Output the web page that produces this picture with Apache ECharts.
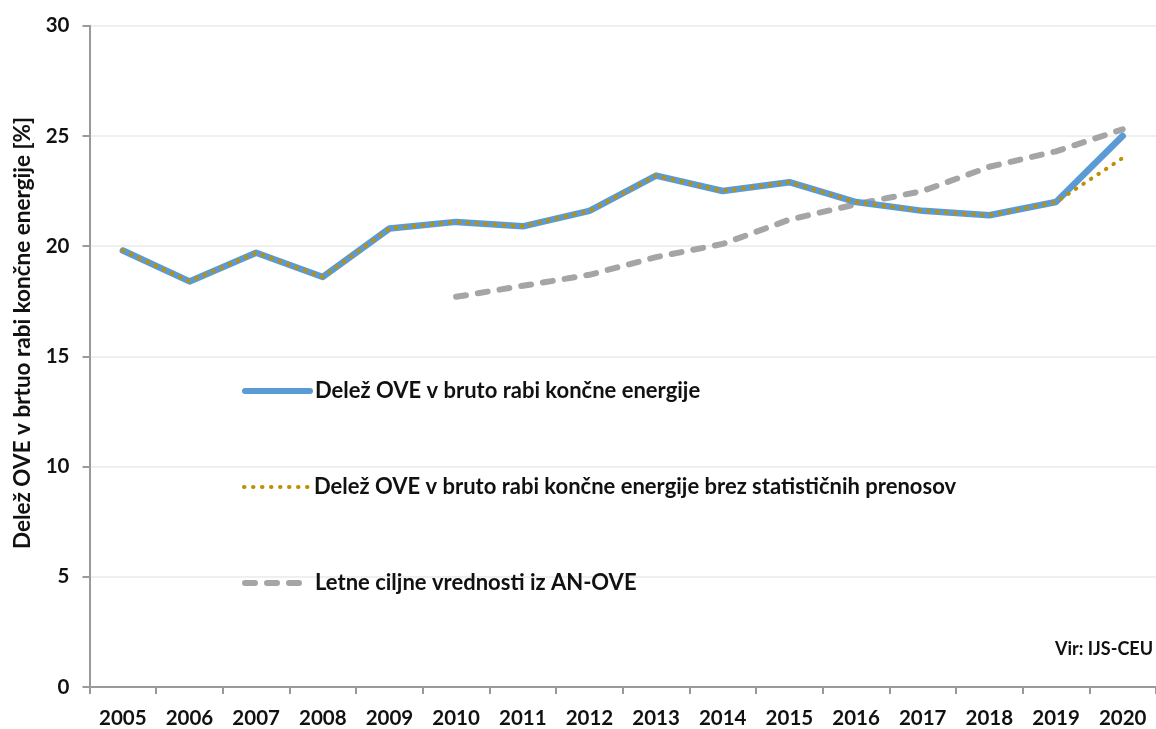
<!DOCTYPE html>
<html>
<head>
<meta charset="utf-8">
<script src="https://cdn.jsdelivr.net/npm/echarts@6/dist/echarts.min.js"></script>
<style>
  html, body { margin: 0; padding: 0; background: #fff; }
  #box { width: 1156px; height: 729px; }
</style>
</head>
<body>
<div id="box"></div>
<script>
// podatki
var years = ['2005','2006','2007','2008','2009','2010','2011','2012','2013','2014','2015','2016','2017','2018','2019','2020'];
var delez = [19.8, 18.4, 19.7, 18.6, 20.8, 21.1, 20.9, 21.6, 23.2, 22.5, 22.9, 22.0, 21.6, 21.4, 22.0, 25.0];
var delezBrez = [19.8, 18.4, 19.7, 18.6, 20.8, 21.1, 20.9, 21.6, 23.2, 22.5, 22.9, 22.0, 21.6, 21.4, 22.0, 24.0];
var cilji = [null, null, null, null, null, 17.7, 18.2, 18.7, 19.5, 20.1, 21.2, 21.9, 22.5, 23.6, 24.3, 25.3];
var yTicks = [0, 5, 10, 15, 20, 25, 30];

var names = [
    'Delež OVE v bruto rabi končne energije',
    'Delež OVE v bruto rabi končne energije brez statističnih prenosov',
    'Letne ciljne vrednosti iz AN-OVE'
];

var font = 'Lato, "Open Sans", sans-serif';
var chart = echarts.init(document.getElementById('box'));

// ena vrstica legende (simbol skrit, ostane samo črta)
function legendRow(name, top, lw) {
    return {
        data: [name],
        left: 242,
        top: top,
        padding: 0,
        itemWidth: 65,
        itemHeight: 20,
        itemGap: 0,
        selectedMode: false,
        itemStyle: { opacity: 0 },
        lineStyle: { width: lw },
        textStyle: { fontFamily: font, fontWeight: 'bold', fontSize: 22, color: '#111', lineHeight: 20 }
    };
}

var option = {
    animation: false,
    grid: { left: 89.5, right: -10.5, top: 25.7, bottom: 38.7, containLabel: false },
    legend: [
        legendRow(names[0], 380, 6),
        legendRow(names[1], 476, 4),
        legendRow(names[2], 572, 6)
    ],
    graphic: [
        {
            type: 'text',
            x: 23, y: 333,
            rotation: Math.PI / 2,
            style: {
                text: 'Delež OVE v brtuo rabi končne energije [%]',
                fontFamily: font, fontWeight: 'bold', fontSize: 22.5, fill: '#111',
                align: 'center', verticalAlign: 'middle'
            }
        },
        {
            type: 'text',
            x: 1153, y: 649,
            style: {
                text: 'Vir: IJS-CEU',
                fontFamily: font, fontWeight: 'bold', fontSize: 18, fill: '#111',
                align: 'right', verticalAlign: 'middle'
            }
        }
    ],
    xAxis: {
        type: 'category',
        data: years,
        boundaryGap: true,
        axisLine: { lineStyle: { color: '#9a9a9a', width: 2 } },
        axisTick: { show: true, length: 7, lineStyle: { color: '#9a9a9a', width: 2 } },
        axisLabel: { margin: 21, fontFamily: font, fontWeight: 'bold', fontSize: 20.5, color: '#111' },
        splitLine: { show: false }
    },
    yAxis: {
        type: 'value',
        min: yTicks[0],
        max: yTicks[yTicks.length - 1],
        interval: 5,
        axisLine: { show: true, lineStyle: { color: '#9a9a9a', width: 2 } },
        axisTick: { show: true, length: 7, lineStyle: { color: '#9a9a9a', width: 2 } },
        axisLabel: { margin: 20, fontFamily: font, fontWeight: 'bold', fontSize: 20.5, color: '#111' },
        splitLine: { lineStyle: { color: '#efefef', width: 2 } }
    },
    series: [
        {
            name: names[0],
            type: 'line',
            data: delez,
            symbol: 'none',
            z: 2,
            lineStyle: { color: '#5b9bd5', width: 6.5, join: 'round', cap: 'round' },
            itemStyle: { color: '#5b9bd5' }
        },
        {
            name: names[1],
            type: 'line',
            data: delezBrez,
            symbol: 'none',
            z: 3,
            lineStyle: { color: '#bf9000', width: 4, type: [0.5, 8.5], cap: 'round' },
            itemStyle: { color: '#bf9000' }
        },
        {
            name: names[2],
            type: 'line',
            data: cilji,
            symbol: 'none',
            z: 1,
            lineStyle: { color: '#a5a5a5', width: 6, type: [10, 12], cap: 'round' },
            itemStyle: { color: '#a5a5a5' }
        }
    ]
};
chart.setOption(option);
</script>
</body>
</html>
